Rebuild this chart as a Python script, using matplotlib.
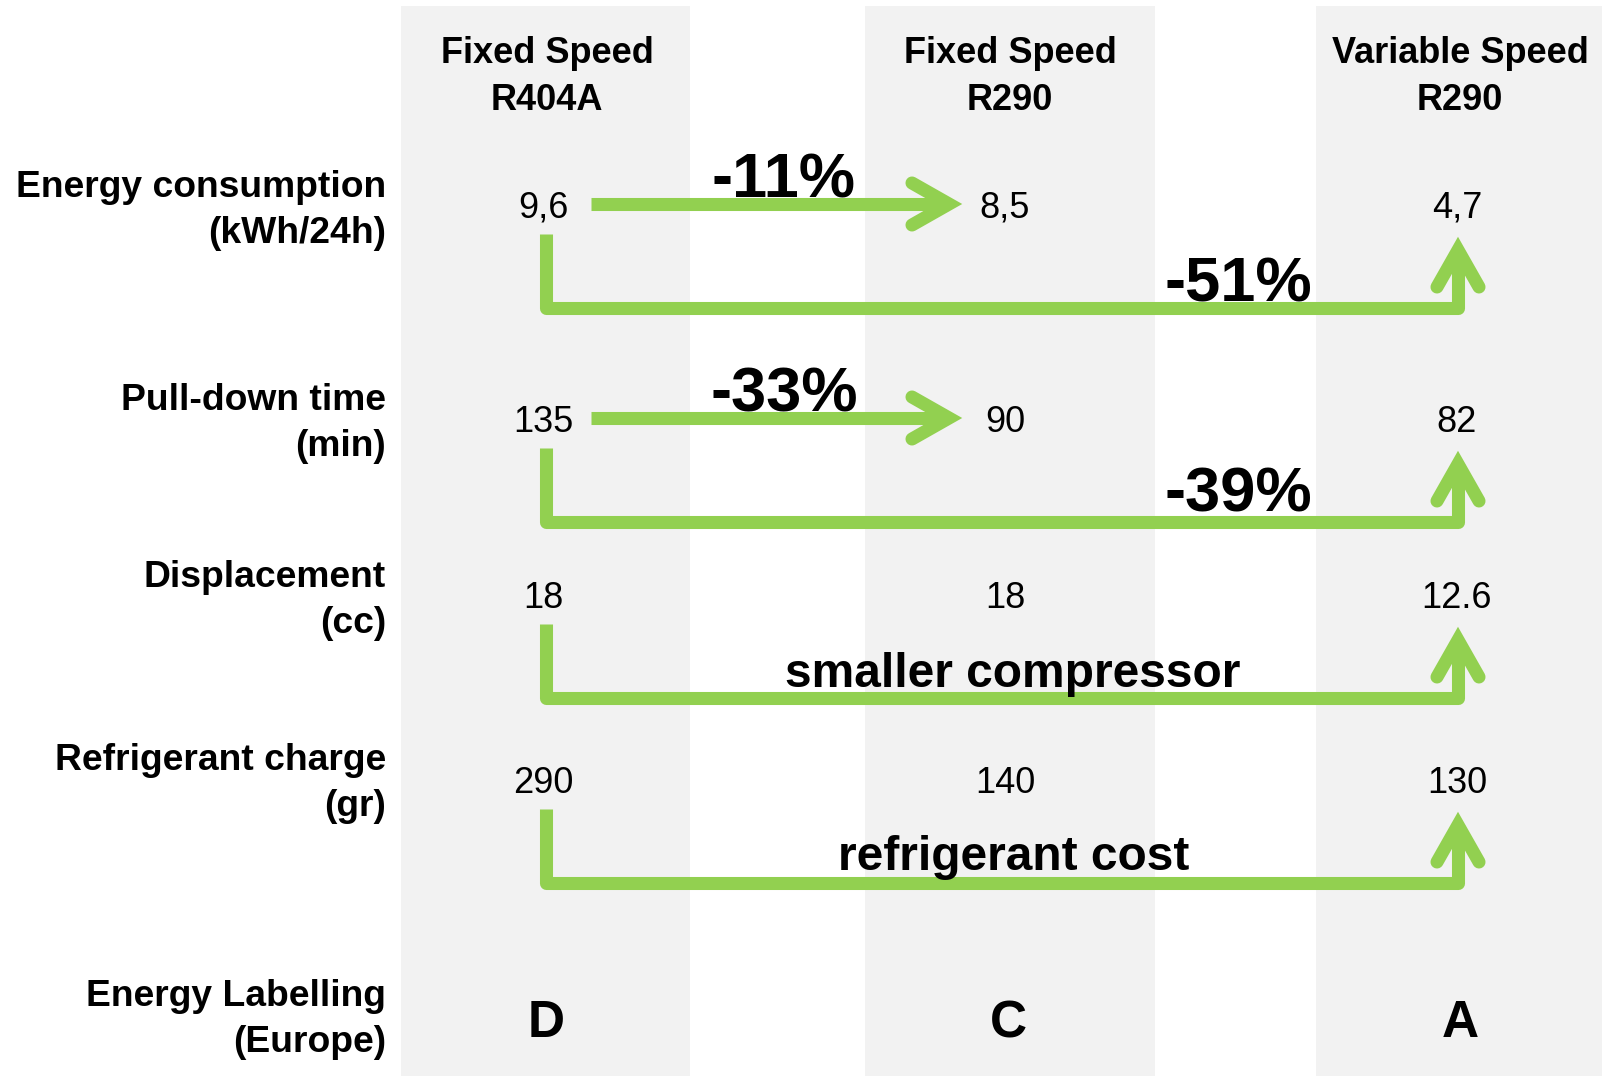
import matplotlib
matplotlib.use("Agg")
import matplotlib.pyplot as plt

# ---------------- data ----------------
column_headers = ["Fixed Speed\nR404A", "Fixed Speed\nR290", "Variable Speed\nR290"]
row_labels = ["Energy consumption\n(kWh/24h)", "Pull-down time\n(min)",
              "Displacement\n(cc)", "Refrigerant charge\n(gr)",
              "Energy Labelling\n(Europe)"]
energy_consumption = ["9,6", "8,5", "4,7"]
pulldown_time = ["135", "90", "82"]
displacement = ["18", "18", "12.6"]
refrigerant_charge = ["290", "140", "130"]
energy_label = ["D", "C", "A"]
fixed_r404a_to_r290 = ["-11%", "-33%"]          # rows 0, 1 (col 1 -> col 2)
r404a_to_variable = ["-51%", "-39%", "smaller compressor", "refrigerant cost"]  # rows 0..3

value_rows = [energy_consumption, pulldown_time, displacement, refrigerant_charge]

# ---------------- layout (pixel coordinates) ----------------
W, H = 1611, 1076
band_edges = [(401, 690), (865, 1155), (1316, 1602)]
band_top = 6
header_x = [547, 1010, 1460]
header_baseline = 63
value_x = [543, 1005, 1457]
value_baselines = [218, 432, 608, 793]
label_right = 386
label_baselines = [197, 410, 587, 770, 1006]
line_gap = 46
letter_x = [546, 1008, 1460]
letter_baseline = 1037
GREEN = "#92D050"
BAND = "#F2F2F2"
LW = 9.4  # points (~13 px)

FONT = ["Liberation Sans", "DejaVu Sans"]
plt.rcParams["font.family"] = FONT

fig = plt.figure(figsize=(W / 100, H / 100), dpi=100)
ax = fig.add_axes([0, 0, 1, 1])
ax.set_xlim(0, W)
ax.set_ylim(H, 0)
ax.axis("off")

# background bands
for x0, x1 in band_edges:
    ax.axvspan(x0, x1, ymin=0, ymax=1 - band_top / H, color=BAND, zorder=0, lw=0)

# column headers
for x, txt in zip(header_x, column_headers):
    l1, l2 = txt.split("\n")
    ax.text(x, header_baseline, l1, ha="center", va="baseline", fontsize=26, fontweight="bold")
    ax.text(x, header_baseline + 47, l2, ha="center", va="baseline", fontsize=26, fontweight="bold")

# row labels
for yb, txt in zip(label_baselines, row_labels):
    l1, l2 = txt.split("\n")
    ax.text(label_right, yb, l1, ha="right", va="baseline", fontsize=26.8, fontweight="bold")
    ax.text(label_right, yb + line_gap, l2, ha="right", va="baseline", fontsize=26.8, fontweight="bold")

# values
for yb, vals in zip(value_baselines, value_rows):
    for x, v in zip(value_x, vals):
        ax.text(x, yb, v, ha="center", va="baseline", fontsize=26, zorder=5)

# energy labels
for x, v in zip(letter_x, energy_label):
    ax.text(x, letter_baseline, v, ha="center", va="baseline", fontsize=37, fontweight="bold")


def chevron(tx, ty, direction):
    """open arrow head with tip at (tx, ty)"""
    back, side, inset = 50, 21, 13
    if direction == "right":
        xs = [tx - back, tx - inset, tx - back]
        ys = [ty - side, ty, ty + side]
        vertex = (tx - inset, ty)
    else:  # up
        xs = [tx - side, tx, tx + side]
        ys = [ty + back, ty + inset, ty + back]
        vertex = (tx, ty + inset)
    ax.plot(xs, ys, color=GREEN, lw=LW, solid_capstyle="round",
            solid_joinstyle="miter", zorder=3)
    return vertex


# straight arrows col1 -> col2
for i, lab in enumerate(fixed_r404a_to_r290):
    y = value_baselines[i] - 14
    x_start = value_x[0] + 48
    tip = value_x[1] - 43
    vx, vy = chevron(tip, y, "right")
    ax.plot([x_start, vx], [y, y], color=GREEN, lw=LW, solid_capstyle="butt", zorder=3)
    ax.text(784, y - 7, lab, ha="center", va="baseline", fontsize=45.5,
            fontweight="bold", zorder=6)

# bent arrows col1 -> col3
bent_text_size = [45.5, 45.5, 34.5, 34.5]
bent_text_x = [1238, 1238, 1013, 1014]
bent_text_off = [7, 10, 11, 13]
for i, lab in enumerate(r404a_to_variable):
    y_start = value_baselines[i] + 16
    y_h = y_start + 74
    x0 = value_x[0] + 3
    x1 = value_x[2] + 1
    tip_y = y_start + 3
    vx, vy = chevron(x1, tip_y, "up")
    ax.plot([x0, x0, x1, x1], [y_start, y_h, y_h, vy], color=GREEN, lw=LW,
            solid_capstyle="butt", solid_joinstyle="round", zorder=3)
    ax.text(bent_text_x[i], y_h - bent_text_off[i], lab, ha="center", va="baseline",
            fontsize=bent_text_size[i], fontweight="bold", zorder=6)

fig.savefig("out.png", dpi=100, facecolor="white")
